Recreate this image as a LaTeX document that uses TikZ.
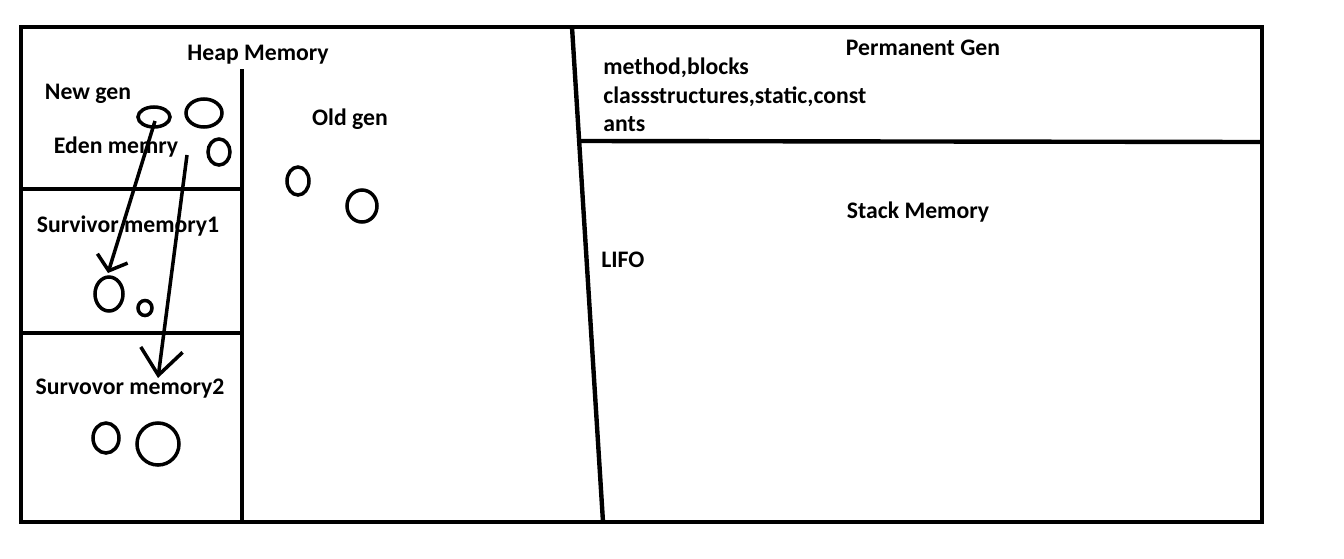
\documentclass[tikz,border=0pt]{standalone}
\usepackage{fontspec}
\setmainfont{Carlito}
\usetikzlibrary{arrows.meta, positioning}

\begin{document}
\begin{tikzpicture}[x=0.02cm, y=-0.02cm,
  wall/.style={line width=2.5pt},
  blob/.style={line width=2pt},
  label/.style={font=\fontsize{13.5}{16}\selectfont\bfseries, inner sep=0pt, anchor=base},
  move/.style={line width=2pt, -{Straight Barb[#1]}}
]
\useasboundingbox (0,0) rectangle (1344,558);

% outer frame and dividers
\draw[wall] (21,27) rectangle (1262,522);
\draw[wall] (242,69) -- (242,522);
\draw[wall] (21,189) -- (242,189);
\draw[wall] (21,333) -- (242,333);
\draw[wall] (572,27) -- (603,522);
\draw[wall] (578,141) -- (1262,142);

% labels
\node[label] (heap) at (258,60) {Heap Memory};
\node[label] (newgen) at (88,99) {New gen};
\node[label] (eden) at (116,153) {Eden memry};
\node[label] (surv1) at (128,232) {Survivor memory1};
\node[label] (surv2) at (130,394) {Survovor memory2};
\node[label] (oldgen) at (350,125) {Old gen};
\node[label] (perm) at (923,55) {Permanent Gen};
\node[label, anchor=base west] (perm1) at (603,74) {method,blocks};
\node[label, anchor=base west] (perm2) at (603,103) {classstructures,static,const};
\node[label, anchor=base west] (perm3) at (603,131) {ants};
\node[label] (stack) at (918,218) {Stack Memory};
\node[label, anchor=base west] (lifo) at (601,267) {LIFO};

% objects
\draw[blob] (154,117) ellipse [x radius=16, y radius=10];
\draw[blob] (204,113) ellipse [x radius=18, y radius=14];
\draw[blob] (219,152) ellipse [x radius=11, y radius=13];
\draw[blob] (298,181) ellipse [x radius=11, y radius=14];
\draw[blob] (362,206) ellipse [x radius=15, y radius=16];
\draw[blob] (109,294) ellipse [x radius=14, y radius=17];
\draw[blob] (145,308) ellipse [x radius=7, y radius=7.5];
\draw[blob] (106,438) ellipse [x radius=13, y radius=15];
\draw[blob] (158,444) ellipse [x radius=21, y radius=21];

% promotion arrows
\coordinate (e1) at (155,121);
\coordinate (s1) at (108,273);
\coordinate (e2) at (187,155);
\coordinate (s2) at (158,378);
\draw[move={length=7.4pt, width=18pt}] (e1) -- (s1);
\draw[move={length=14.7pt, width=24pt}] (e2) -- (s2);

\end{tikzpicture}
\end{document}
